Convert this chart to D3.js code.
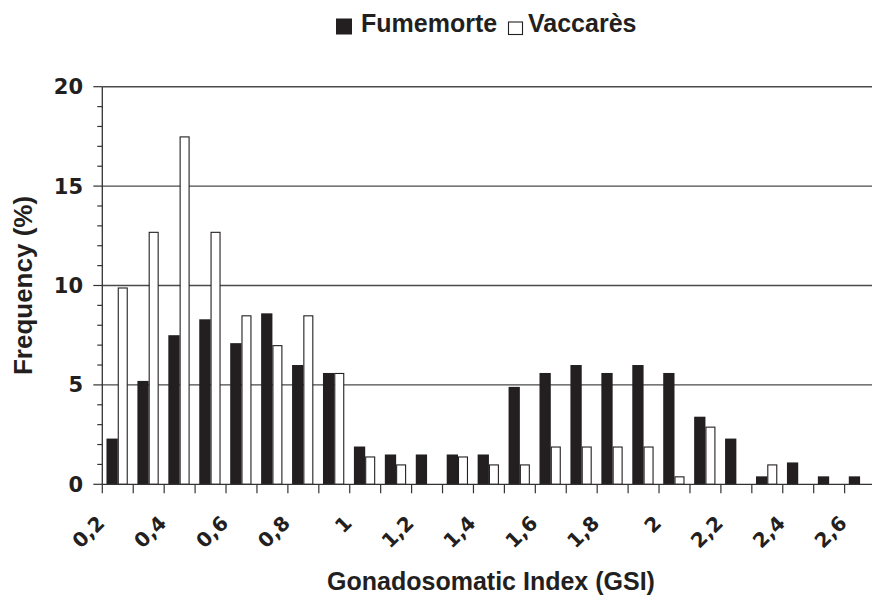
<!DOCTYPE html>
<html>
<head>
<meta charset="utf-8">
<script src="https://cdn.jsdelivr.net/npm/d3@7"></script>
<style>
  html, body { margin: 0; padding: 0; background: #fff; }
  svg { display: block; font-family: "Liberation Sans", Arial, sans-serif; font-weight: bold; }
  .tick-label { font-family: "DejaVu Sans", "Liberation Sans", sans-serif; font-weight: bold; }
</style>
</head>
<body>
<svg id="chart" width="872" height="597"></svg>
<script>
// GSI classes (class lower bound, decimal comma)
const categories = ["0,2","0,3","0,4","0,5","0,6","0,7","0,8","0,9","1","1,1","1,2","1,3","1,4",
                    "1,5","1,6","1,7","1,8","1,9","2","2,1","2,2","2,3","2,4","2,5","2,6"];
// Frequency (%) per class
const fumemorte = [2.3, 5.2, 7.5, 8.3, 7.1, 8.6, 6.0, 5.6, 1.9, 1.5, 1.5, 1.5, 1.5,
                   4.9, 5.6, 6.0, 5.6, 6.0, 5.6, 3.4, 2.3, 0.4, 1.1, 0.4, 0.4];
const vaccares  = [9.9, 12.7, 17.5, 12.7, 8.5, 7.0, 8.5, 5.6, 1.4, 1.0, 0, 1.4, 1.0,
                   1.0, 1.9, 1.9, 1.9, 1.9, 0.4, 2.9, 0, 1.0, 0, 0, 0];
const xTickLabels = ["0,2","0,4","0,6","0,8","1","1,2","1,4","1,6","1,8","2","2,2","2,4","2,6"];
const yTicks = [0, 5, 10, 15, 20];
const seriesNames = ["Fumemorte", "Vaccarès"];

const svg = d3.select("#chart");
const plotLeft = 102.3, plotBottom = 484.3, plotTop = 86.7;
const step = 30.93;
const plotRight = plotLeft + step * categories.length;

const x = d3.scaleBand().domain(categories).range([plotLeft, plotRight]).padding(0);
const y = d3.scaleLinear().domain([0, 20]).range([plotBottom, plotTop]);
const bw = x.bandwidth();
const ink = "#231f20";

// horizontal gridlines at major ticks
svg.append("g").selectAll("line")
  .data(yTicks.filter(d => d > 0))
  .join("line")
  .attr("x1", plotLeft).attr("x2", 872)
  .attr("y1", d => y(d)).attr("y2", d => y(d))
  .attr("stroke", "#4a4a4a").attr("stroke-width", 1.4);

// Fumemorte bars (solid)
svg.append("g").selectAll("rect")
  .data(categories.map((c, i) => ({c, v: fumemorte[i]})).filter(d => d.v > 0))
  .join("rect")
  .attr("x", d => x(d.c) + bw * 0.135)
  .attr("width", bw * 0.365)
  .attr("y", d => y(d.v))
  .attr("height", d => plotBottom - y(d.v))
  .attr("fill", ink);

// Vaccarès bars (outlined)
svg.append("g").selectAll("rect")
  .data(categories.map((c, i) => ({c, v: vaccares[i]})).filter(d => d.v > 0))
  .join("rect")
  .attr("x", d => x(d.c) + bw * 0.5 + 0.5)
  .attr("width", bw * 0.29)
  .attr("y", d => y(d.v) + 0.5)
  .attr("height", d => plotBottom - y(d.v) - 0.5)
  .attr("fill", "#fff")
  .attr("stroke", ink).attr("stroke-width", 1.1);

// y axis line with major and minor ticks
const axisColor = "#333";
svg.append("line").attr("x1", plotLeft).attr("x2", plotLeft).attr("y1", plotTop).attr("y2", plotBottom + 0.5)
  .attr("stroke", axisColor).attr("stroke-width", 1.3);
svg.append("g").selectAll("line")
  .data(d3.range(0, 21))
  .join("line")
  .attr("x1", d => d % 5 === 0 ? plotLeft - 9 : plotLeft - 5).attr("x2", plotLeft)
  .attr("y1", d => y(d)).attr("y2", d => y(d))
  .attr("stroke", axisColor).attr("stroke-width", 1.2);

// x axis line with ticks between classes
svg.append("line").attr("x1", plotLeft).attr("x2", 872).attr("y1", plotBottom).attr("y2", plotBottom)
  .attr("stroke", axisColor).attr("stroke-width", 1.3);
svg.append("g").selectAll("line")
  .data(d3.range(0, categories.length + 1))
  .join("line")
  .attr("x1", i => plotLeft + i * bw).attr("x2", i => plotLeft + i * bw)
  .attr("y1", plotBottom).attr("y2", plotBottom + 9)
  .attr("stroke", axisColor).attr("stroke-width", 1.2);

// y tick labels
svg.append("g").selectAll("text")
  .data(yTicks)
  .join("text")
  .attr("class", "tick-label")
  .attr("x", 83).attr("y", d => y(d))
  .attr("text-anchor", "end")
  .attr("dy", "0.36em")
  .attr("font-size", 21)
  .attr("fill", ink)
  .text(d => d);

// x tick labels, rotated
svg.append("g").selectAll("text")
  .data(xTickLabels)
  .join("text")
  .attr("class", "tick-label")
  .attr("transform", d => `translate(${x(d) + bw / 2 - 12},${plotBottom + 40}) rotate(-45)`)
  .attr("text-anchor", "end")
  .attr("font-size", 20)
  .attr("fill", ink)
  .text(d => d);

// axis titles
svg.append("text")
  .attr("transform", `translate(32,${(plotTop + plotBottom) / 2}) rotate(-90)`)
  .attr("text-anchor", "middle")
  .attr("font-size", 26)
  .attr("fill", ink)
  .text("Frequency (%)");

svg.append("text")
  .attr("x", 491).attr("y", 590)
  .attr("text-anchor", "middle")
  .attr("font-size", 25)
  .attr("fill", ink)
  .text("Gonadosomatic Index (GSI)");

// legend
const legend = svg.append("g");
legend.append("rect").attr("x", 336).attr("y", 18.5).attr("width", 16).attr("height", 16)
  .attr("fill", ink);
legend.append("text").attr("x", 361).attr("y", 32).attr("font-size", 25)
  .attr("fill", ink).text(seriesNames[0]);
legend.append("rect").attr("x", 508.5).attr("y", 22).attr("width", 14).attr("height", 12.5)
  .attr("fill", "#fff").attr("stroke", ink).attr("stroke-width", 1.1);
legend.append("text").attr("x", 528).attr("y", 32).attr("font-size", 25)
  .attr("fill", ink).text(seriesNames[1]);
</script>
</body>
</html>
